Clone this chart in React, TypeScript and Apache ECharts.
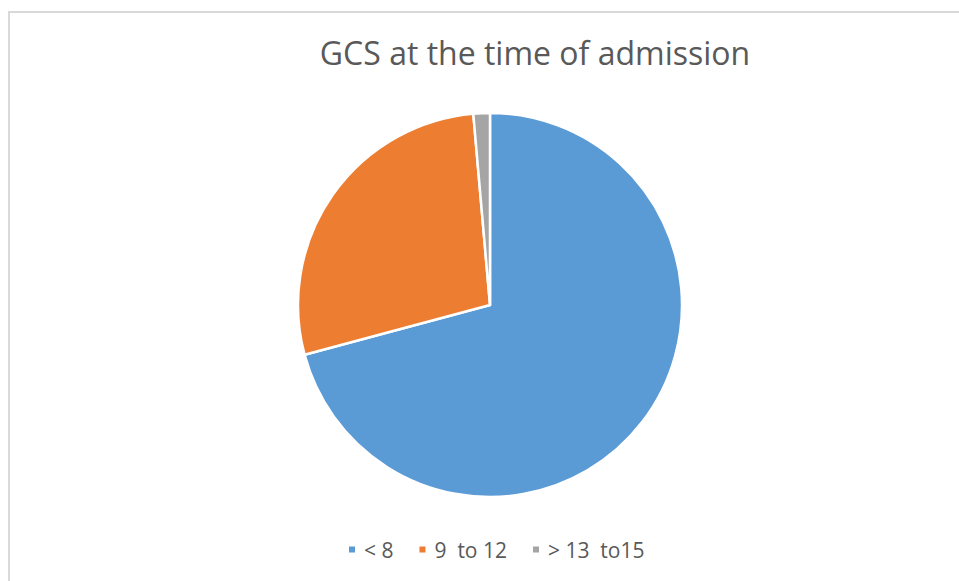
import React, { useEffect, useRef } from "react";
import * as echarts from "echarts";

const categories = ["< 8", "9  to 12", "> 13  to15"];
const values = [51, 20, 1];
const colors = ["#5B9BD5", "#ED7D31", "#A5A5A5"];
const titleText = "GCS at the time of admission";

export default function App() {
  const ref = useRef<HTMLDivElement>(null);
  useEffect(() => {
    if (!ref.current) return;
    const chart = echarts.init(ref.current, undefined, { renderer: "svg" });
    chart.setOption({
      animation: false,
      backgroundColor: "#ffffff",
      title: {
        text: titleText,
        left: 530,
        top: 31,
        textAlign: "center",
        textStyle: {
          fontFamily: "Open Sans",
          fontSize: 32,
          fontWeight: "normal",
          color: "#595959",
        },
      },
      legend: {
        data: categories,
        top: 539,
        left: 347,
        padding: 0,
        icon: "rect",
        itemWidth: 8,
        itemHeight: 8,
        itemGap: 24,
        textStyle: {
          fontFamily: "Open Sans",
          fontSize: 21,
          color: "#595959",
          padding: [0, 0, 0, 3],
        },
      },
      graphic: [
        {
          type: "rect",
          shape: { x: 9, y: 12, width: 1000, height: 620 },
          style: { fill: "none", stroke: "#d9d9d9", lineWidth: 2 },
          silent: true,
        },
      ],
      series: [
        {
          type: "pie",
          center: [490, 305],
          radius: 192,
          startAngle: 90,
          clockwise: true,
          label: { show: false },
          labelLine: { show: false },
          itemStyle: { borderColor: "#ffffff", borderWidth: 2.5 },
          data: categories.map((c, i) => ({
            name: c,
            value: values[i],
            itemStyle: { color: colors[i] },
          })),
        },
      ],
    });
    return () => chart.dispose();
  }, []);
  return (
    <div
      ref={ref}
      style={{ position: "fixed", left: 0, top: 0, width: 959, height: 581 }}
    />
  );
}
